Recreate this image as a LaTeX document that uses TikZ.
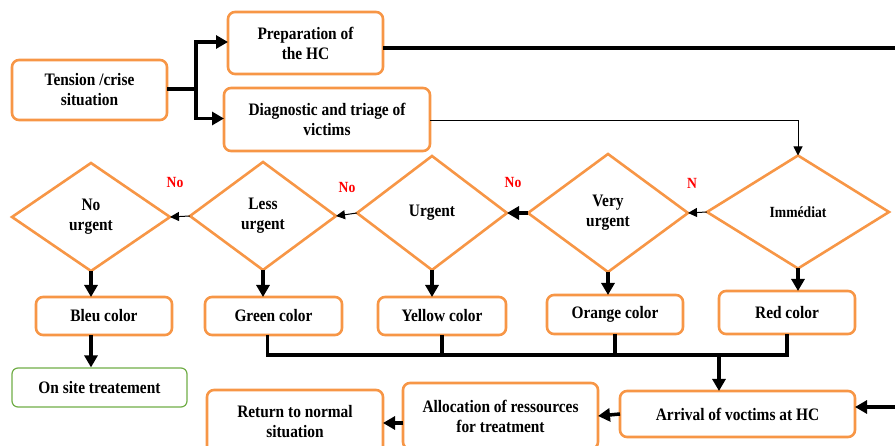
\documentclass[tikz,border=0pt]{standalone}
\usepackage{fontspec}
\setmainfont{Liberation Serif}[FakeStretch=0.88]
\usetikzlibrary{shapes.geometric,arrows.meta}
\definecolor{borange}{HTML}{F79646}
\definecolor{bgreen}{HTML}{70AD47}
\begin{document}
\begin{tikzpicture}[x=1pt,y=-1pt,
  box/.style={draw=borange,line width=2.6pt,rounded corners=7pt,fill=white,align=center,inner sep=0pt,outer sep=0pt,font=\bfseries\fontsize{17.5}{20}\selectfont},
  dia/.style={draw=borange,line width=2.6pt,shape=diamond,align=center,inner sep=0pt,outer sep=0pt,font=\bfseries\fontsize{17.5}{20}\selectfont},
  thickarr/.style={line width=3.5pt,-{Triangle[length=12pt,width=13pt]}},
  thinarr/.style={line width=1pt,-{Triangle[length=9pt,width=9pt]}},
  thickline/.style={line width=3.5pt},
  lbl/.style={text=red,font=\bfseries\fontsize{15.5}{17}\selectfont}
]
\useasboundingbox (0,0) rectangle (895,446);

% top boxes
\node[box,minimum width=155pt,minimum height=60pt] (tension) at (89.5,90) {Tension /crise\\situation};
\node[box,minimum width=155pt,minimum height=62pt] (prep) at (305.5,43) {Preparation of\\the HC};
\node[box,minimum width=206pt,minimum height=63pt] (diag) at (327,119.5) {Diagnostic and triage of\\victims};

\coordinate (split) at (196,89);
\draw[thickline] (tension.east |- split) -- (split);
\draw[thickarr,line cap=rect] (split) |- ([yshift=1pt]prep.west);
\draw[thickarr,line cap=rect] (split) |- ([yshift=1pt]diag.west);

% diamonds
\node[dia,minimum width=182pt,minimum height=113pt] (imm) at (798,212) {\fontsize{15.5}{17}\selectfont Immédiat};
\node[dia,minimum width=160pt,minimum height=118pt] (very) at (608,213) {Very\\urgent};
\node[dia,minimum width=150pt,minimum height=114pt] (urg) at (432,213) {Urgent};
\node[dia,minimum width=146pt,minimum height=108pt] (less) at (263,216) {Less\\urgent};
\node[dia,minimum width=158pt,minimum height=108pt] (nou) at (91,217) {No\\urgent};

\draw[thinarr] ([yshift=-1.5pt]diag.east) -| (imm.north);

\draw[thinarr] (imm.west) -- (very.east);
\draw[thickarr] (very.west) -- (urg.east);
\draw[thinarr] (urg.west) -- (less.east);
\draw[thinarr] (less.west) -- (nou.east);

\node[lbl] (n1) at (692,183) {N};
\node[lbl] (n2) at (513,183) {No};
\node[lbl] (n3) at (347,188) {No};
\node[lbl] (n4) at (175,183) {No};

% colour boxes
\node[box,minimum width=136pt,minimum height=38pt] (bleu) at (104,316) {Bleu color};
\node[box,minimum width=137pt,minimum height=38pt] (green) at (273.5,316) {Green color};
\node[box,minimum width=128pt,minimum height=38pt] (yellow) at (442,316) {Yellow color};
\node[box,minimum width=136pt,minimum height=39pt] (orange) at (615,314.5) {Orange color};
\node[box,minimum width=136pt,minimum height=43pt] (red) at (787,312.5) {Red color};

\draw[thickarr] (nou.south) -- (nou.south |- bleu.north);
\draw[thickarr] (less.south) -- (less.south |- green.north);
\draw[thickarr] (urg.south) -- (urg.south |- yellow.north);
\draw[thickarr] (very.south) -- (very.south |- orange.north);
\draw[thickarr] (imm.south) -- (imm.south |- red.north);

\node[draw=bgreen,line width=1.2pt,rounded corners=6pt,minimum width=175pt,minimum height=39pt,inner sep=0pt,font=\bfseries\fontsize{17.5}{20}\selectfont] (onsite) at (99.5,387.5) {On site treatement};
\draw[thickarr] (nou.south |- bleu.south) -- (nou.south |- onsite.north);

% bus
\coordinate (busy) at (0,355);
\draw[thickline,line join=miter] ([xshift=-6pt]green.south) -- ([xshift=-6pt]green.south |- busy) -- (red.south |- busy) -- (red.south);
\draw[thickline] (yellow.south) -- (yellow.south |- busy);
\draw[thickline] (orange.south) -- (orange.south |- busy);

% bottom row
\node[box,minimum width=235pt,minimum height=46pt] (arrival) at (737.5,414) {Arrival of voctims at HC};
\node[box,minimum width=195pt,minimum height=66pt] (alloc) at (500.5,416) {Allocation of ressources\\for treatment};
\node[box,minimum width=176pt,minimum height=64pt] (ret) at (295,422) {Return to normal\\situation};

\coordinate (busarr) at (719,355);
\draw[thickarr] (busarr) -- (busarr |- arrival.north);
\draw[thickarr] (arrival.west) -- (alloc.east);
\draw[thickarr] ([yshift=-7pt]alloc.west) -- ([yshift=-7pt]alloc.west -| ret.east);

\draw[thickarr] ([yshift=-5pt]prep.east) -- ++(530,0) |- ([yshift=7pt]arrival.east);
\end{tikzpicture}
\end{document}
